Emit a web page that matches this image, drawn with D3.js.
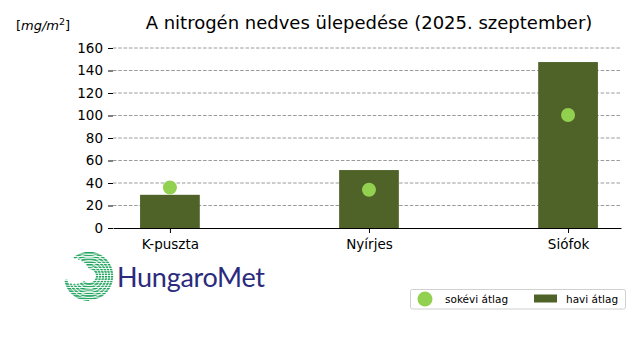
<!DOCTYPE html>
<html><head><meta charset="utf-8">
<script src="https://cdn.jsdelivr.net/npm/d3@7"></script>
<style>body{margin:0;background:#fff}svg{display:block}</style>
</head><body>
<script>
const categories = ["K-puszta", "Nyírjes", "Siófok"];
const monthly = [29.5, 51.5, 147.5];
const longTerm = [36, 34, 100.5];
const yTicks = [0, 20, 40, 60, 80, 100, 120, 140, 160];

const W = 640, H = 360;
const svg = d3.select("body").append("svg").attr("width", W).attr("height", H)
  .style("font-family", "DejaVu Sans");

const x = d3.scaleLinear().domain([-0.286, 2.266]).range([113, 621]);
const y = d3.scaleLinear().domain([0, 160]).range([228, 48]);

// grid
svg.append("g").selectAll("line").data(yTicks.slice(1)).join("line")
  .attr("x1", 113).attr("x2", 621).attr("y1", d => y(d)).attr("y2", d => y(d))
  .attr("stroke", "#808080").attr("stroke-width", 0.8).attr("stroke-dasharray", "3.5,1.8");

// bars
const bw = 0.3;
svg.append("g").selectAll("rect").data(monthly).join("rect")
  .attr("x", (d, i) => x(i - bw / 2)).attr("width", x(bw) - x(0))
  .attr("y", d => y(d)).attr("height", d => y(0) - y(d))
  .attr("fill", "#4f6228");

// dots
svg.append("g").selectAll("circle").data(longTerm).join("circle")
  .attr("cx", (d, i) => x(i)).attr("cy", d => y(d)).attr("r", 7)
  .attr("fill", "#92d050");

// y axis
const ya = d3.axisLeft(y).tickValues(yTicks).tickSize(5).tickPadding(5);
const gy = svg.append("g").attr("transform", "translate(113,0)").call(ya);
gy.select(".domain").remove();
gy.selectAll("text").attr("font-size", 13.5).attr("font-family", "DejaVu Sans").attr("fill", "#000");
gy.selectAll("line").attr("stroke", "#000");

// x axis
const xa = d3.axisBottom(x).tickValues([0, 1, 2]).tickFormat(i => categories[i]).tickSize(5).tickPadding(6).tickSizeOuter(0);
const gx = svg.append("g").attr("transform", "translate(0,228)").call(xa);
gx.select(".domain").attr("stroke", "#000");
gx.selectAll("text").attr("font-size", 13.5).attr("font-family", "DejaVu Sans").attr("fill", "#000");

// title
svg.append("text").attr("x", 369).attr("y", 29).attr("text-anchor", "middle")
  .attr("font-size", 18).text("A nitrogén nedves ülepedése (2025. szeptember)");
const u = svg.append("text").attr("x", 16).attr("y", 30).attr("font-size", 13);
u.append("tspan").text("[");
u.append("tspan").attr("font-style", "italic").text("mg/m");
u.append("tspan").attr("font-size", 9.5).attr("dy", -5).text("2");
u.append("tspan").attr("dy", 5).text("]");

// legend
const lg = svg.append("g");
lg.append("rect").attr("x", 410.5).attr("y", 289.5).attr("width", 215).attr("height", 19.5).attr("rx", 2)
  .attr("fill", "#fff").attr("stroke", "#d0d0d0");
lg.append("circle").attr("cx", 425).attr("cy", 299).attr("r", 7.5).attr("fill", "#92d050");
lg.append("text").attr("x", 445).attr("y", 302.5).attr("font-size", 10.5).text("sokévi átlag");
lg.append("rect").attr("x", 534).attr("y", 294.5).attr("width", 23).attr("height", 8).attr("fill", "#4f6228");
lg.append("text").attr("x", 566).attr("y", 302.5).attr("font-size", 10.5).text("havi átlag");

// logo
const defs = svg.append("defs");
const grad = defs.append("linearGradient").attr("id", "lgrad").attr("gradientUnits", "userSpaceOnUse")
  .attr("x1", 110).attr("y1", 255).attr("x2", 68).attr("y2", 300);
grad.append("stop").attr("offset", 0).attr("stop-color", "#1aa05a");
grad.append("stop").attr("offset", 0.5).attr("stop-color", "#1a9a8e");
grad.append("stop").attr("offset", 1).attr("stop-color", "#2a78b8");
const pat = defs.append("pattern").attr("id", "stripes").attr("patternUnits", "userSpaceOnUse")
  .attr("width", 4).attr("height", 2.4);
pat.append("rect").attr("width", 4).attr("height", 1.5).attr("fill", "#fff");
const mask = defs.append("mask").attr("id", "smask");
mask.append("rect").attr("x", 60).attr("y", 250).attr("width", 60).attr("height", 55).attr("fill", "url(#stripes)");

const logo = svg.append("g").attr("mask", "url(#smask)");
const cx = 89, cy = 276;
for (let k = 0; k < 6; k++) {
  const r = 7 + k * 3;
  const arc = d3.arc().innerRadius(r).outerRadius(r + 2.2)
    .startAngle(-0.1 - k * 0.12).endAngle(Math.PI * 1.25 + k * 0.1);
  logo.append("path").attr("transform", `translate(${cx},${cy})`).attr("d", arc())
    .attr("fill", "url(#lgrad)");
}
// tail
logo.append("path").attr("transform", `translate(${cx},${cy})`)
  .attr("d", d3.arc().innerRadius(22).outerRadius(25).startAngle(Math.PI * 1.0).endAngle(Math.PI * 1.45)())
  .attr("fill", "url(#lgrad)");
svg.append("text").attr("x", 117).attr("y", 287).attr("font-size", 27).attr("font-family", "Lato")
  .attr("textLength", 148).attr("fill", "#2b2b7d").text("HungaroMet");
</script>
</body></html>
